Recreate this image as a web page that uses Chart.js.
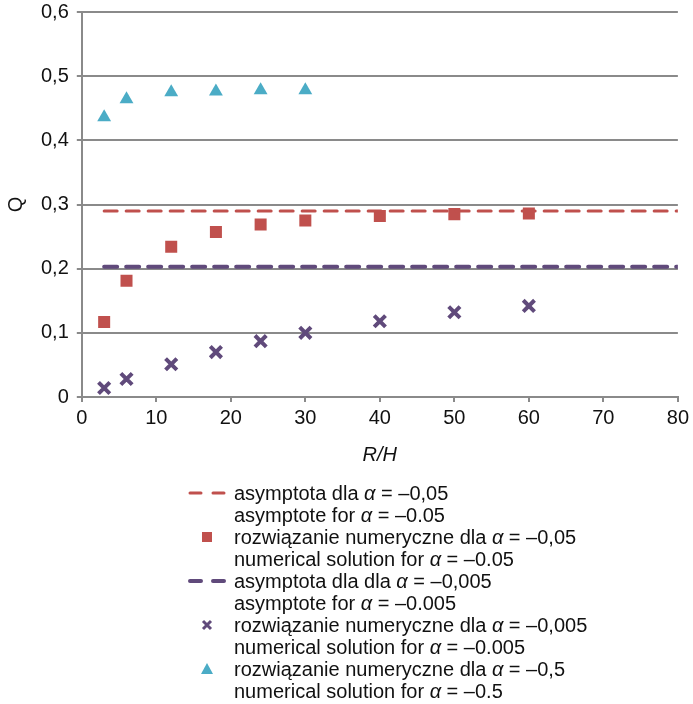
<!DOCTYPE html>
<html>
<head>
<meta charset="utf-8">
<script src="https://cdn.jsdelivr.net/npm/chart.js@4.4.1/dist/chart.umd.min.js"></script>
<style>
  html, body { margin: 0; padding: 0; background: #fff; }
  #wrap { width: 693px; height: 704px; }
</style>
</head>
<body>
<div id="wrap"><canvas id="chart"></canvas></div>
<script>
// values
const rH = [3, 6, 12, 18, 24, 30, 40, 50, 60];
const qAlpha005 = [0.117, 0.181, 0.234, 0.257, 0.269, 0.275, 0.282, 0.285, 0.286];
const qAlpha0005 = [0.014, 0.028, 0.051, 0.070, 0.087, 0.100, 0.118, 0.132, 0.142];
const rHAlpha05 = [3, 6, 12, 18, 24, 30];
const qAlpha05 = [0.436, 0.464, 0.475, 0.476, 0.478, 0.478];
const asymX = [3, 80];
const asym005 = [0.29, 0.29];
const asym0005 = [0.203, 0.203];

const labels = [
  ['asymptota dla α = –0,05', 'asymptote for α = –0.05'],
  ['rozwiązanie numeryczne dla α = –0,05', 'numerical solution for α = –0.05'],
  ['asymptota dla dla α = –0,005', 'asymptote for α = –0.005'],
  ['rozwiązanie numeryczne dla α = –0,005', 'numerical solution for α = –0.005'],
  ['rozwiązanie numeryczne dla α = –0,5', 'numerical solution for α = –0.5']
];

const RED = '#c0504d';
const PURPLE = '#604a7b';
const AQUA = '#4bacc6';
const FONT = "'Liberation Sans', Arial, sans-serif";

const pts = (xs, ys) => xs.map((x, i) => ({ x: x, y: ys[i] }));

// two-line legend drawn under the axis, alpha in italics
const bottomLegend = {
  id: 'bottomLegend',
  afterDraw(chart) {
    const ctx = chart.ctx;
    const markX = 207;
    const textX = 234;
    let y = 493;
    const lineH = 22;
    ctx.save();
    ctx.textBaseline = 'middle';
    ctx.fillStyle = '#111';
    chart.data.datasets.forEach((ds, i) => {
      // marker
      ctx.save();
      if (ds.showLine) {
        ctx.strokeStyle = ds.borderColor;
        ctx.lineWidth = ds.borderWidth;
        ctx.lineCap = 'round';
        ctx.setLineDash([11, 12]);
        ctx.beginPath();
        ctx.moveTo(190, y);
        ctx.lineTo(224, y);
        ctx.stroke();
      } else if (ds.pointStyle === 'rect') {
        ctx.fillStyle = ds.backgroundColor;
        ctx.fillRect(markX - 5, y - 5, 10, 10);
      } else if (ds.pointStyle === 'crossRot') {
        ctx.strokeStyle = ds.borderColor;
        ctx.lineWidth = 3;
        ctx.beginPath();
        ctx.moveTo(markX - 4, y - 4); ctx.lineTo(markX + 4, y + 4);
        ctx.moveTo(markX + 4, y - 4); ctx.lineTo(markX - 4, y + 4);
        ctx.stroke();
      } else if (ds.pointStyle === 'triangle') {
        ctx.fillStyle = ds.backgroundColor;
        ctx.beginPath();
        ctx.moveTo(markX, y - 6);
        ctx.lineTo(markX + 6, y + 5);
        ctx.lineTo(markX - 6, y + 5);
        ctx.closePath();
        ctx.fill();
      }
      ctx.restore();
      // text
      labels[i].forEach(line => {
        let x = textX;
        line.split(/(α)/).forEach(part => {
          if (!part) return;
          ctx.font = (part === 'α' ? 'italic ' : '') + '20px ' + FONT;
          ctx.fillText(part, x, y + 1);
          x += ctx.measureText(part).width;
        });
        y += lineH;
      });
    });
    ctx.restore();
  }
};

new Chart(document.getElementById('chart'), {
  type: 'scatter',
  data: {
    datasets: [
      {
        label: labels[0].join(' '),
        data: pts(asymX, asym005),
        showLine: true,
        borderColor: RED,
        backgroundColor: RED,
        borderWidth: 3,
        borderDash: [13, 9],
        borderCapStyle: 'round',
        pointRadius: 0
      },
      {
        label: labels[1].join(' '),
        data: pts(rH, qAlpha005),
        pointStyle: 'rect',
        pointRadius: 8.5,
        backgroundColor: RED,
        borderColor: RED,
        borderWidth: 0
      },
      {
        label: labels[2].join(' '),
        data: pts(asymX, asym0005),
        showLine: true,
        borderColor: PURPLE,
        backgroundColor: PURPLE,
        borderWidth: 4,
        borderDash: [13, 9],
        borderCapStyle: 'round',
        pointRadius: 0
      },
      {
        label: labels[3].join(' '),
        data: pts(rH, qAlpha0005),
        pointStyle: 'crossRot',
        pointRadius: 8,
        backgroundColor: PURPLE,
        borderColor: PURPLE,
        borderWidth: 4
      },
      {
        label: labels[4].join(' '),
        data: pts(rHAlpha05, qAlpha05),
        pointStyle: 'triangle',
        pointRadius: 8,
        backgroundColor: AQUA,
        borderColor: AQUA,
        borderWidth: 0
      }
    ]
  },
  options: {
    responsive: true,
    maintainAspectRatio: false,
    animation: false,
    layout: { padding: { top: 11, left: 2, right: 14, bottom: 233 } },
    plugins: {
      legend: { display: false },
      tooltip: { enabled: false }
    },
    scales: {
      x: {
        type: 'linear',
        min: 0,
        max: 80,
        ticks: { stepSize: 10, color: '#111', padding: 4, font: { family: FONT, size: 20 } },
        grid: { drawOnChartArea: false, drawTicks: true, tickLength: 5, color: '#8a8a8a', lineWidth: 2 },
        border: { color: '#8a8a8a', width: 2 },
        title: {
          display: true,
          text: 'R/H',
          color: '#111',
          padding: { top: 9, bottom: 4 },
          font: { family: FONT, size: 20, style: 'italic' }
        }
      },
      y: {
        min: 0,
        max: 0.6,
        afterFit(scale) {
          // let the top tick label hang over the chart edge
          scale.paddingTop = 0;
        },
        ticks: {
          stepSize: 0.1,
          color: '#111',
          padding: 8,
          font: { family: FONT, size: 20 },
          callback: v => v === 0 ? '0' : v.toFixed(1).replace('.', ',')
        },
        grid: { color: '#8a8a8a', lineWidth: 2, tickLength: 5 },
        border: { color: '#8a8a8a', width: 2 },
        title: {
          display: true,
          text: 'Q',
          color: '#111',
          padding: { top: 2, bottom: 5 },
          font: { family: FONT, size: 20 }
        }
      }
    }
  },
  plugins: [bottomLegend]
});
</script>
</body>
</html>
